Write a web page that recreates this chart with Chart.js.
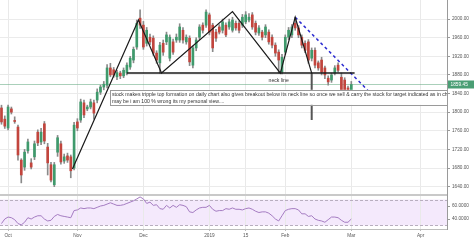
<!DOCTYPE html>
<html>
<head>
<meta charset="utf-8">
<script src="https://cdn.jsdelivr.net/npm/chart.js@4.4.1/dist/chart.umd.min.js"></script>
<style>
  html, body { margin: 0; padding: 0; background: #fff; }
  #wrap { width: 474px; height: 240px; }
</style>
</head>
<body>
<div id="wrap"><canvas id="chart"></canvas></div>
<script>
// daily bars, bar 0 = end of Sep 2018, last bar = 1 Mar 2019
const opens = [
  1809, 1785, 1766, 1807, 1782, 1768, 1697, 1682, 1717, 1691,
  1704, 1757, 1736, 1775, 1725, 1687, 1644, 1714, 1732, 1695,
  1706, 1704, 1680, 1779, 1783, 1820, 1807, 1811, 1820, 1826,
  1843, 1854, 1858, 1895, 1891, 1876, 1884, 1878, 1884, 1897,
  1912, 1940, 2002, 1987, 1948, 1961, 1959, 1927, 1906, 1948,
  1951, 1916, 1951, 1955, 1955, 1976, 1951, 1959, 1901, 1938,
  1961, 1987, 1987, 2009, 1987, 1972, 1983, 1976, 1987, 1983,
  1976, 1991, 1991, 1987, 1994, 1998, 2009, 1991, 1970, 1972,
  1966, 1972, 1961, 1944, 1929, 1886, 1929, 1961, 1966, 1991,
  1981, 1961, 1948, 1951, 1916, 1933, 1906, 1912, 1895, 1873,
  1869, 1884, 1901, 1875, 1869, 1852, 1845
];
const highs = [
  1815, 1792, 1815, 1811, 1790, 1772, 1700, 1720, 1742, 1700,
  1738, 1762, 1765, 1780, 1733, 1692, 1692, 1750, 1738, 1710,
  1712, 1708, 1778, 1786, 1828, 1826, 1815, 1828, 1826, 1850,
  1858, 1866, 1902, 1905, 1896, 1890, 1888, 1895, 1906, 1920,
  1940, 1998, 2020, 1995, 1982, 1968, 1964, 1932, 1950, 1955,
  1972, 1966, 1957, 1968, 1990, 1982, 1966, 1964, 1942, 1960,
  1988, 1992, 2020, 2013, 1991, 1978, 1988, 2000, 1992, 2000,
  2004, 1996, 1996, 2010, 2016, 2012, 2014, 1996, 1986, 1976,
  1988, 1977, 1966, 1949, 1934, 1924, 1966, 1982, 1988, 2004,
  1986, 1966, 1953, 1956, 1938, 1938, 1910, 1918, 1899, 1878,
  1884, 1900, 1906, 1884, 1874, 1856, 1866
];
const lows = [
  1774, 1765, 1762, 1796, 1776, 1697, 1648, 1675, 1712, 1678,
  1698, 1728, 1730, 1732, 1665, 1650, 1640, 1705, 1688, 1690,
  1692, 1659, 1676, 1760, 1778, 1788, 1803, 1807, 1785, 1820,
  1838, 1848, 1852, 1876, 1875, 1870, 1872, 1874, 1880, 1892,
  1906, 1935, 1980, 1935, 1942, 1945, 1922, 1905, 1884, 1922,
  1945, 1910, 1924, 1950, 1950, 1948, 1946, 1900, 1895, 1932,
  1956, 1970, 1982, 1966, 1930, 1952, 1968, 1970, 1962, 1978,
  1972, 1976, 1970, 1982, 1990, 1994, 1978, 1966, 1965, 1955,
  1960, 1946, 1938, 1920, 1884, 1882, 1924, 1956, 1960, 1976,
  1960, 1938, 1928, 1905, 1910, 1895, 1890, 1880, 1872, 1858,
  1864, 1880, 1886, 1846, 1836, 1835, 1840
];
const closes = [
  1779, 1770, 1811, 1800, 1780, 1708, 1665, 1714, 1736, 1682,
  1732, 1734, 1757, 1738, 1691, 1654, 1687, 1745, 1693, 1704,
  1697, 1674, 1772, 1766, 1822, 1794, 1811, 1822, 1798, 1843,
  1854, 1860, 1895, 1880, 1880, 1885, 1878, 1890, 1901, 1916,
  1935, 1991, 1987, 1940, 1976, 1951, 1927, 1912, 1944, 1929,
  1966, 1961, 1929, 1961, 1983, 1955, 1961, 1908, 1938, 1955,
  1983, 1976, 2015, 1972, 1938, 1959, 1972, 1994, 1966, 1994,
  1998, 1981, 1976, 2004, 2009, 2004, 1983, 1972, 1981, 1961,
  1983, 1951, 1944, 1927, 1912, 1918, 1961, 1976, 1983, 1981,
  1966, 1944, 1933, 1912, 1933, 1901, 1895, 1886, 1880, 1865,
  1880, 1895, 1890, 1848, 1843, 1841, 1859.45
];
const rsiValues = [
  33, 40, 43, 42, 39, 33, 31, 35, 42, 40,
  43, 45, 45, 40, 37, 38, 44, 47, 45, 44,
  43, 42, 53, 54, 57, 56, 57, 57, 56, 58,
  60, 61, 63, 65, 63, 61, 61, 62, 64, 66,
  68, 71, 74, 71, 64, 66, 61, 62, 56, 55,
  61, 57, 61, 58, 62, 61, 59, 51, 50, 54,
  57, 58, 58, 61, 55, 52, 53, 53, 56, 55,
  57, 55, 55, 54, 56, 57, 55, 52, 50, 51,
  51, 49, 45, 40, 37, 45, 53, 55, 56, 56,
  54, 48, 48, 44, 45, 40, 38, 37, 35, 39,
  43, 43, 42, 38, 35, 35, 40
];

const tickBars = [2, 23, 43, 63, 74, 86, 106, 127];
const tickLabels = ['Oct', 'Nov', 'Dec', '2019', '15', 'Feb', 'Mar', 'Apr'];
const priceTicks = [1640, 1680, 1720, 1760, 1800, 1840, 1880, 1920, 1960, 2000];
const rsiTicks = [40, 60];
const rsiBand = [30, 70];

// drawings on the chart, as [bar, price]
const triplePath = [[21.5, 1678], [41.5, 1998], [48.5, 1884], [70, 2016], [84.5, 1884], [89, 2004], [94, 1884]];
const neckLine = [[38, 1884], [107, 1884]];
const targetLine = [[94, 1884], [94, 1783]];
const trendLine = [[89, 2004], [111, 1847]];
const neckLabel = { bar: 84, price: 1867, text: 'neck line' };
const note = {
  bar: 33, price: 1848,
  lines: [
    'stock makes tripple top formation on daily chart also gives breakout below its neck line so once we sell & carry the stock for target indicated as in chart',
    'may be i am 100 % wrong its my personal view....'
  ]
};

const UP = '#3f9a6c';
const DOWN = '#c2453d';
const FONT = 'Liberation Sans, Arial, sans-serif';
const bars = closes.map((_, i) => i);
const lastClose = closes[closes.length - 1];

const toXY = pts => pts.map(p => ({ x: p[0], y: p[1] }));
const drawing = (pts, color, width, dash) => ({
  type: 'line',
  data: toXY(pts),
  yAxisID: 'y',
  borderColor: color,
  borderWidth: width,
  borderDash: dash || [],
  pointRadius: 0,
  tension: 0,
  order: 0
});

// no extra room for edge labels, the panes start at the canvas edges
const noPad = s => { s.paddingTop = 0; s.paddingBottom = 0; s.paddingLeft = 0; s.paddingRight = 0; };

const panels = {
  id: 'panels',
  beforeDraw(chart) {
    const { ctx, chartArea: a, scales: { rsi } } = chart;
    const top = rsi.getPixelForValue(rsiBand[1]);
    const bot = rsi.getPixelForValue(rsiBand[0]);
    ctx.save();
    ctx.fillStyle = '#f4e9fc';
    ctx.fillRect(a.left, top, a.width, bot - top);
    ctx.restore();
  },
  beforeDatasetsDraw(chart) {
    const { ctx, chartArea: a, scales: { y, rsi } } = chart;
    ctx.save();
    ctx.lineWidth = 1;
    ctx.strokeStyle = '#b8aebf';
    ctx.setLineDash([3, 2]);
    rsiBand.forEach(v => {
      const py = Math.round(rsi.getPixelForValue(v)) + 0.5;
      ctx.beginPath(); ctx.moveTo(a.left, py); ctx.lineTo(a.right, py); ctx.stroke();
    });
    ctx.setLineDash([]);
    // panel separator
    ctx.strokeStyle = '#c9c9c9';
    ctx.lineWidth = 2;
    ctx.beginPath(); ctx.moveTo(a.left, rsi.top); ctx.lineTo(a.right, rsi.top); ctx.stroke();
    // last price line
    const py = Math.round(y.getPixelForValue(lastClose)) + 0.5;
    ctx.strokeStyle = 'rgba(100,170,130,0.55)';
    ctx.lineWidth = 1;
    ctx.beginPath(); ctx.moveTo(a.left, py); ctx.lineTo(a.right, py); ctx.stroke();
    ctx.restore();
  },
  afterDatasetsDraw(chart) {
    const { ctx, chartArea: a, scales: { x, y } } = chart;
    ctx.save();
    ctx.beginPath(); ctx.rect(a.left, a.top, a.width, a.height); ctx.clip();
    // note box
    const nx = x.getPixelForValue(note.bar);
    const ny = y.getPixelForValue(note.price);
    ctx.fillStyle = '#fff';
    ctx.fillRect(nx, ny, a.right - nx + 5, 15);
    ctx.strokeStyle = '#9a9a9a';
    ctx.lineWidth = 1;
    ctx.strokeRect(Math.round(nx) + 0.5, Math.round(ny) + 0.5, a.right - nx + 5, 15);
    ctx.fillStyle = '#333';
    ctx.font = '5.15px ' + FONT;
    ctx.textBaseline = 'middle';
    note.lines.forEach((t, i) => ctx.fillText(t, nx + 1.5, ny + 4.5 + i * 7));
    // neck line label
    ctx.fillStyle = '#333';
    ctx.textAlign = 'center';
    ctx.fillText(neckLabel.text, x.getPixelForValue(neckLabel.bar), y.getPixelForValue(neckLabel.price));
    ctx.restore();
  },
  afterDraw(chart) {
    const { ctx, chartArea: a, scales: { y } } = chart;
    const py = y.getPixelForValue(lastClose);
    ctx.save();
    ctx.fillStyle = '#4a9e74';
    ctx.fillRect(a.right + 1, py - 4, chart.width - a.right - 1, 8);
    ctx.fillStyle = '#fff';
    ctx.font = '4.8px ' + FONT;
    ctx.textBaseline = 'middle';
    ctx.fillText(lastClose.toFixed(2), a.right + 3.5, py + 0.3);
    ctx.restore();
  }
};

new Chart(document.getElementById('chart'), {
  type: 'bar',
  data: {
    datasets: [
      drawing(triplePath, '#1a1a1a', 1.2),
      drawing(neckLine, '#1a1a1a', 1.5),
      drawing(targetLine, '#555', 2),
      drawing(trendLine, '#2b2bd0', 1.5, [3, 3]),
      {
        type: 'line',
        data: bars.map(i => ({ x: i, y: rsiValues[i] })),
        yAxisID: 'rsi',
        borderColor: '#a57cc2',
        borderWidth: 1,
        pointRadius: 0,
        tension: 0,
        order: 0
      },
      {
        data: bars.map(i => ({ x: i, y: [opens[i], closes[i]] })),
        yAxisID: 'y',
        backgroundColor: bars.map(i => closes[i] >= opens[i] ? UP : DOWN),
        barThickness: 2,
        minBarLength: 1,
        grouped: false,
        order: 1
      },
      {
        data: bars.map(i => ({ x: i, y: [lows[i], highs[i]] })),
        yAxisID: 'y',
        backgroundColor: '#8a8a8a',
        barThickness: 1,
        grouped: false,
        order: 2
      }
    ]
  },
  options: {
    responsive: true,
    maintainAspectRatio: false,
    animation: false,
    events: [],
    layout: { padding: 0 },
    plugins: { legend: { display: false }, tooltip: { enabled: false } },
    scales: {
      x: {
        type: 'linear',
        min: -0.45,
        max: 135,
        offset: false,
        grid: { offset: false, color: '#e9e9e9', tickLength: 2, tickColor: '#bbb' },
        border: { color: '#bdbdbd' },
        afterBuildTicks: s => { s.ticks = tickBars.map(v => ({ value: v })); },
        afterFit: s => { s.height = 11; noPad(s); },
        ticks: {
          autoSkip: false,
          maxRotation: 0,
          padding: 1.5,
          color: '#555',
          font: { size: 4.7, family: FONT },
          callback: v => tickLabels[tickBars.indexOf(v)]
        }
      },
      y: {
        position: 'right',
        stack: 'panes',
        stackWeight: 195,
        min: 1622,
        max: 2041,
        grid: { color: '#ebebeb', tickLength: 3, tickColor: '#999' },
        border: { color: '#9a9a9a' },
        afterBuildTicks: s => { s.ticks = priceTicks.map(v => ({ value: v })); },
        afterFit: s => { s.width = 27; noPad(s); },
        ticks: {
          autoSkip: false,
          padding: 2,
          color: '#555',
          font: { size: 4.7, family: FONT },
          callback: v => v.toFixed(2)
        }
      },
      rsi: {
        position: 'right',
        stack: 'panes',
        stackWeight: 34,
        min: 24.6,
        max: 77,
        grid: { drawOnChartArea: false, tickLength: 3, tickColor: '#999' },
        border: { color: '#9a9a9a' },
        afterBuildTicks: s => { s.ticks = rsiTicks.map(v => ({ value: v })); },
        afterFit: s => { s.width = 27; noPad(s); },
        ticks: {
          autoSkip: false,
          padding: 2,
          color: '#555',
          font: { size: 4.7, family: FONT },
          callback: v => v.toFixed(4)
        }
      }
    }
  },
  plugins: [panels]
});
</script>
</body>
</html>
